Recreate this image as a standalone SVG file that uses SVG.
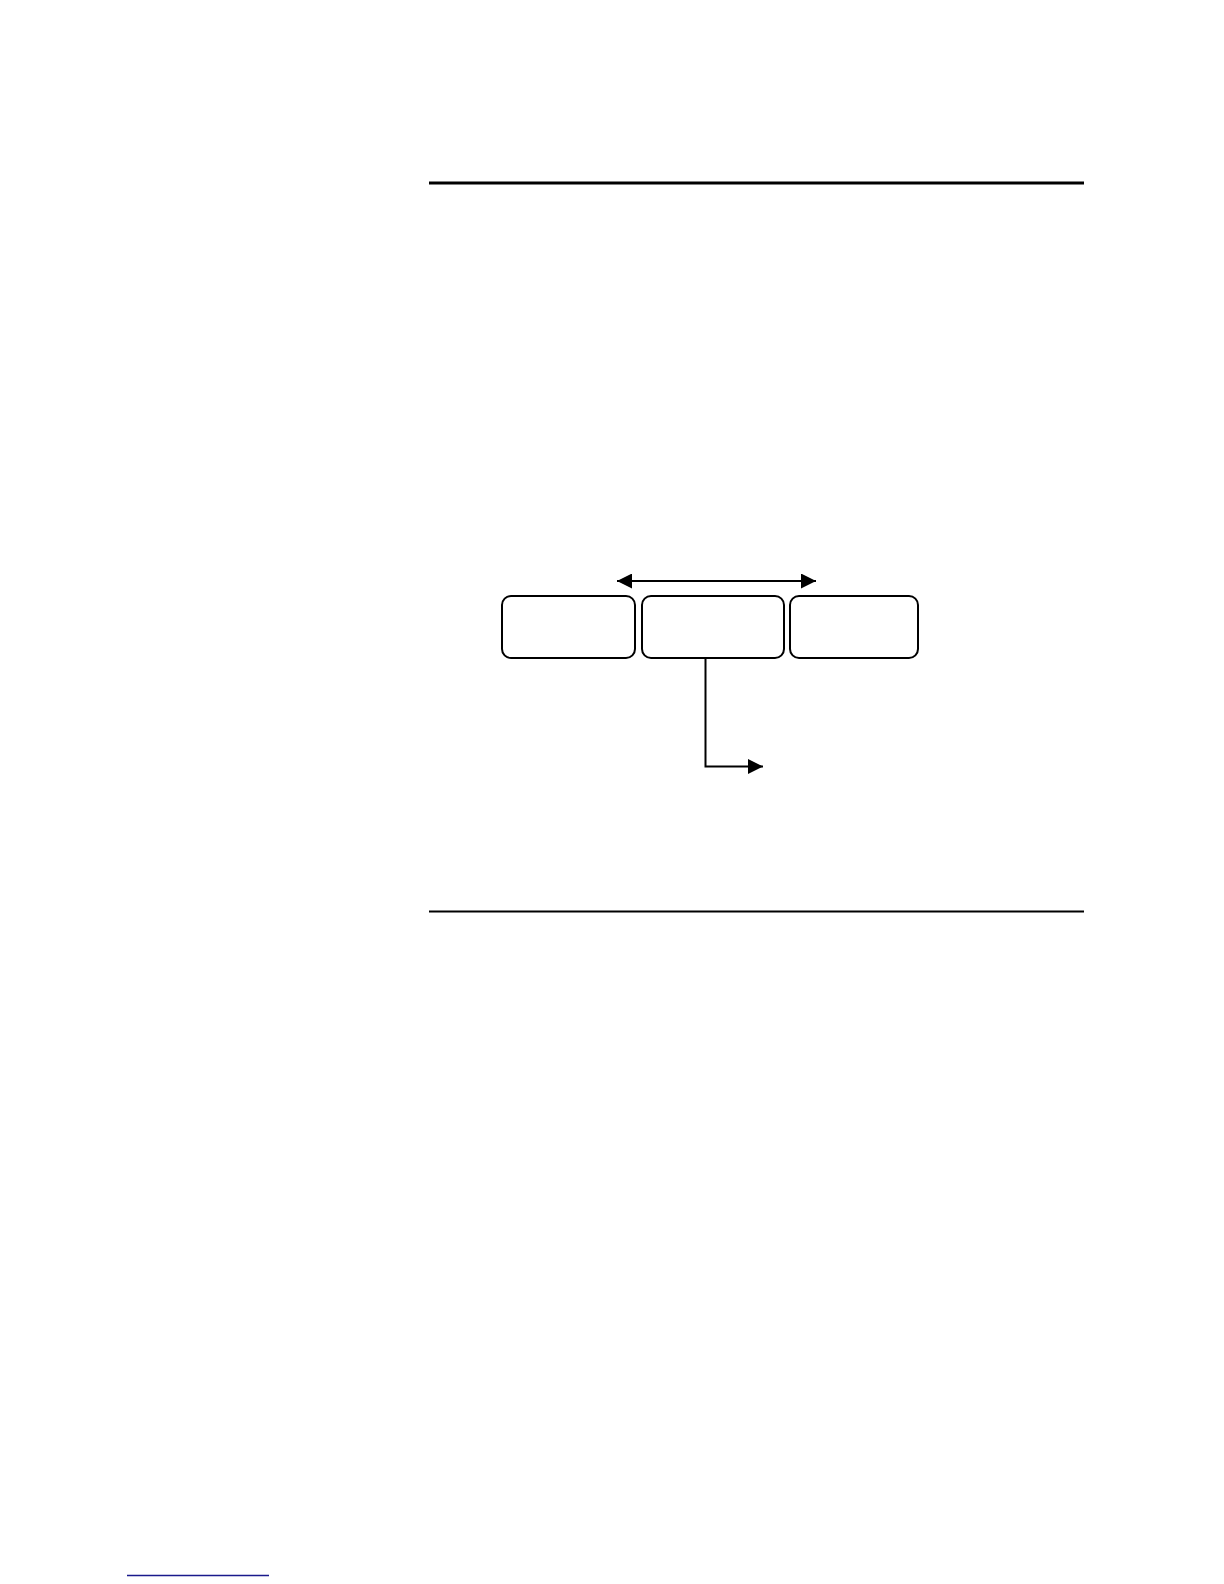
<svg xmlns="http://www.w3.org/2000/svg" width="1224" height="1584" viewBox="0 0 1224 1584">
<style>
.node{fill:#fff;stroke:#000;stroke-width:2}
.conn{fill:none;stroke:#000;stroke-width:2}
.rule{stroke:#000}
</style>
<defs>
<marker id="ah2" viewBox="0 0 10 10" refX="10" refY="5" markerWidth="7.5" markerHeight="7.5" orient="auto-start-reverse">
<path d="M0,0 L10,5 L0,10 z" fill="#000"/>
</marker>
</defs>
<rect width="1224" height="1584" fill="#fff"/>
<line class="rule" x1="429" y1="183" x2="1084" y2="183" stroke-width="3"/>
<line class="rule" x1="429" y1="911.5" x2="1084" y2="911.5" stroke-width="1.8"/>
<line x1="127" y1="1575.5" x2="269" y2="1575.5" stroke="#1a1a8c" stroke-width="1.5"/>
<g id="node1"><rect class="node" x="502" y="596" width="133" height="62" rx="9"/></g>
<g id="node2"><rect class="node" x="642" y="596" width="142" height="62" rx="9"/></g>
<g id="node3"><rect class="node" x="790" y="596" width="128" height="62" rx="9"/></g>
<g id="connectors">
<line class="conn" x1="617" y1="581" x2="816" y2="581" marker-start="url(#ah2)" marker-end="url(#ah2)"/>
<polyline class="conn" points="705.5,658 705.5,766.5 763,766.5" marker-end="url(#ah2)"/>
</g>
</svg>
